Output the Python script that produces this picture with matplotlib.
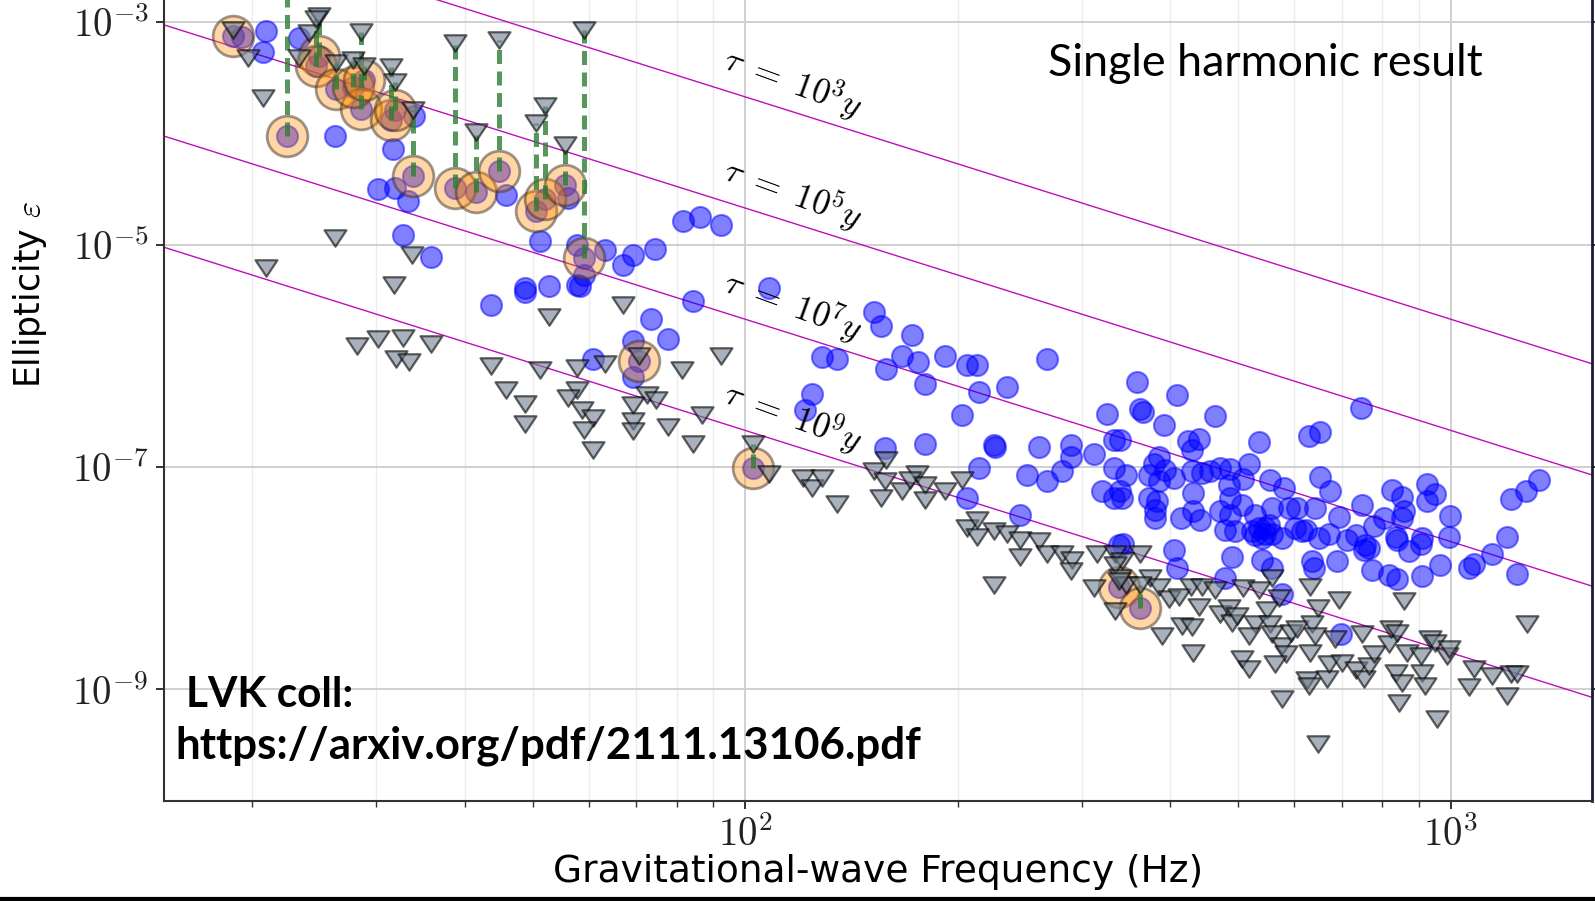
#!/usr/bin/env python3
"""Single-harmonic ellipticity limits versus gravitational-wave frequency."""

import matplotlib
matplotlib.use("Agg")
import matplotlib.pyplot as plt
from matplotlib.lines import Line2D
from matplotlib.path import Path
from matplotlib.ticker import LogLocator, NullFormatter, NullLocator
import numpy as np

# values are (log10 frequency [Hz], log10 ellipticity)

# pulsars whose upper limit beats the spin-down limit: log10 f, upper limit, spin-down limit
hl_logf = [1.274, 1.350, 1.396, 1.392, 1.420, 1.455, 1.444, 1.460, 1.498, 1.503, 1.529,
           1.588, 1.619, 1.651, 1.704, 1.716, 1.744, 1.772, 1.850, 2.011, 2.530, 2.560]
hl_log_ul = [-3.12, -4.02, -3.30, -3.39, -3.60, -3.78, -3.58, -3.52, -3.88, -3.79, -4.38,
             -4.49, -4.53, -4.34, -4.70, -4.59, -4.46, -5.12, -6.05, -7.01, -8.08, -8.27]
hl_log_sd = [-3.07, -2.60, -2.94, -2.97, -3.37, -3.09, -3.34, -3.39, -3.40, -3.54, -3.79,
             -3.19, -3.99, -3.16, -3.91, -3.75, -4.10, -3.07, -6.00, -6.79, -8.03, -8.06]

# direct upper limits (blue circles)
upper_limits = [
    (1.321, -3.08), (1.317, -3.27), (1.368, -3.14), (1.286, -3.13), (1.418, -4.02),
    (1.501, -4.14), (1.480, -4.50), (1.503, -4.49), (1.522, -4.61), (1.515, -4.91),
    (1.555, -5.11), (1.531, -3.84), (1.661, -4.55), (1.709, -4.97), (1.749, -4.58),
    (1.761, -5.00), (1.801, -5.05), (1.827, -5.18), (1.841, -5.09),
    (1.912, -4.79), (1.936, -4.75), (1.966, -4.82), (1.872, -5.04),
    (1.639, -5.54), (1.688, -5.39), (1.688, -5.43), (1.722, -5.37), (1.765, -5.37),
    (1.761, -5.36), (1.771, -5.27), (1.784, -6.03), (1.841, -5.87), (1.841, -6.19),
    (2.033, -5.39), (1.926, -5.51), (1.867, -5.67), (1.891, -5.85), (2.108, -6.01),
    (2.130, -6.03), (2.182, -5.61), (2.193, -5.73), (2.236, -5.81), (2.222, -6.00),
    (2.245, -6.06), (2.200, -6.12), (2.283, -6.00), (2.314, -6.08), (2.328, -6.08),
    (2.427, -6.03), (2.255, -6.25), (2.331, -6.33), (2.371, -6.28), (2.307, -6.53),
    (2.094, -6.34), (2.084, -6.49), (2.513, -6.52), (2.198, -6.83), (2.255, -6.79),
    (2.352, -6.80), (2.354, -6.82), (2.416, -6.82), (2.461, -6.80), (2.461, -6.91),
    (2.494, -6.88), (2.522, -6.76), (2.331, -7.01), (2.399, -7.07), (2.427, -7.13),
    (2.449, -7.04), (2.505, -7.22), (2.522, -7.01), (2.522, -7.28), (2.314, -7.28),
    (2.390, -7.43), (2.529, -7.70),
    (2.555, -6.24), (2.612, -6.35), (2.560, -6.48), (2.564, -6.51), (2.666, -6.54),
    (2.593, -6.62), (2.872, -6.47), (2.799, -6.72), (2.815, -6.69), (2.728, -6.78),
    (2.628, -6.77), (2.643, -6.75), (2.633, -6.85), (2.531, -6.76),
    (2.586, -6.91), (2.579, -6.97), (2.595, -7.03), (2.572, -7.07), (2.539, -7.07),
    (2.607, -7.10), (2.633, -7.04), (2.647, -7.05), (2.659, -7.04), (2.673, -7.01),
    (2.687, -7.02), (2.714, -6.97), (2.706, -7.11), (2.685, -7.16), (2.744, -7.12),
    (2.763, -7.19), (2.814, -7.09), (2.829, -7.22), (2.586, -7.13), (2.635, -7.23),
    (2.531, -7.22), (2.534, -7.28), (2.572, -7.28), (2.583, -7.31), (2.581, -7.39),
    (2.581, -7.46), (2.617, -7.46), (2.635, -7.40), (2.645, -7.48), (2.673, -7.40),
    (2.687, -7.43), (2.687, -7.28), (2.704, -7.34), (2.723, -7.43), (2.747, -7.37),
    (2.770, -7.37), (2.782, -7.37), (2.808, -7.37), (2.841, -7.45), (2.874, -7.34),
    (2.917, -7.21), (2.931, -7.27), (2.966, -7.15), (2.978, -7.24), (2.966, -7.31),
    (2.933, -7.40), (2.931, -7.46), (2.905, -7.46), (2.891, -7.53), (2.999, -7.44),
    (2.997, -7.63), (3.125, -7.12), (3.106, -7.22), (3.085, -7.29), (3.080, -7.63),
    (2.680, -7.57), (2.694, -7.58), (2.723, -7.61), (2.737, -7.55), (2.747, -7.60),
    (2.779, -7.55), (2.794, -7.57), (2.827, -7.60), (2.865, -7.61), (2.922, -7.63),
    (2.959, -7.64), (2.728, -7.55), (2.737, -7.60), (2.742, -7.52), (2.732, -7.64),
    (2.761, -7.64), (2.813, -7.64), (2.853, -7.66), (2.789, -7.58), (2.879, -7.70),
    (2.718, -7.58),
    (2.536, -7.69), (2.607, -7.75), (2.690, -7.81), (2.732, -7.84), (2.747, -7.91),
    (2.612, -7.91), (2.680, -8.00), (2.761, -8.14), (2.803, -7.85), (2.806, -7.91),
    (2.839, -7.85), (2.888, -7.93), (2.912, -7.97), (2.924, -8.01), (2.959, -7.98),
    (2.985, -7.88), (3.026, -7.91), (3.033, -7.87), (3.059, -7.78), (3.094, -7.96),
    (2.877, -7.75), (2.957, -7.69), (2.940, -7.76), (2.924, -7.66), (2.844, -8.50),
    (2.884, -7.73),
]

# spin-down limits (grey triangles)
spindown_limits = [
    (1.295, -3.32), (1.317, -3.68), (1.368, -3.32), (1.382, -3.10), (1.418, -4.94),
    (1.528, -5.09), (1.321, -5.21),
    (1.502, -5.36), (1.449, -5.91), (1.479, -5.85), (1.515, -5.84), (1.555, -5.89),
    (1.505, -6.03), (1.524, -6.06), (1.639, -6.09), (1.661, -6.31), (1.688, -6.43),
    (1.688, -6.61), (1.709, -6.13), (1.722, -5.65), (1.761, -6.11), (1.761, -6.31),
    (1.748, -6.38), (1.768, -6.49), (1.784, -6.56), (1.771, -6.67), (1.784, -6.85),
    (1.801, -6.07), (1.827, -5.54), (1.841, -6.44), (1.841, -6.59), (1.841, -6.68),
    (1.966, -6.00), (1.910, -6.13), (1.860, -6.35), (1.874, -6.40), (1.938, -6.53),
    (1.891, -6.64), (1.926, -6.79), (2.033, -7.06), (2.082, -7.10), (2.094, -7.19),
    (2.108, -7.10), (2.130, -7.33), (2.182, -7.04), (2.200, -6.94), (2.198, -7.13),
    (2.193, -7.28), (2.222, -7.22), (2.243, -7.06), (2.233, -7.12), (2.255, -7.16),
    (2.255, -7.30), (2.283, -7.22), (2.307, -7.12), (2.314, -7.55), (2.328, -7.48),
    (2.352, -7.58), (2.371, -7.60),
    (2.328, -7.63), (2.390, -7.66), (2.390, -7.81), (2.416, -7.67), (2.427, -7.78),
    (2.449, -7.78), (2.463, -7.84), (2.461, -7.94), (2.494, -8.09), (2.498, -7.78),
    (2.353, -8.06), (2.524, -7.78), (2.524, -8.30),
    (2.560, -7.78), (2.534, -7.85), (2.524, -7.88), (2.531, -8.00), (2.539, -8.06),
    (2.574, -8.00), (2.586, -8.08), (2.600, -8.19), (2.614, -8.17), (2.631, -8.08),
    (2.647, -8.08), (2.643, -8.26), (2.666, -8.11), (2.673, -8.32), (2.685, -8.27),
    (2.690, -8.40), (2.697, -8.34), (2.706, -8.09), (2.723, -8.41), (2.728, -8.11),
    (2.740, -8.29), (2.747, -8.00), (2.744, -8.41), (2.756, -8.18), (2.747, -8.50),
    (2.761, -8.61), (2.773, -8.49), (2.782, -8.46), (2.766, -8.68), (2.751, -8.77),
    (2.801, -8.08), (2.811, -8.27), (2.803, -8.41), (2.808, -8.52), (2.801, -8.67),
    (2.796, -8.92), (2.799, -8.97), (2.825, -8.91), (2.827, -8.77), (2.836, -8.55),
    (2.841, -8.20), (2.846, -8.76), (2.865, -8.83), (2.874, -8.50), (2.877, -8.91),
    (2.884, -8.79), (2.891, -8.68), (2.912, -8.59), (2.915, -8.46), (2.924, -8.49),
    (2.922, -8.85), (2.931, -8.94), (2.933, -8.21), (2.938, -8.67), (2.957, -8.70),
    (2.959, -8.85), (2.964, -8.97), (2.971, -8.55), (2.978, -8.58), (2.995, -8.70),
    (2.997, -8.64), (3.026, -8.98), (3.033, -8.82), (3.059, -8.88), (3.085, -8.86),
    (3.094, -8.86), (3.080, -9.06), (3.108, -8.41), (2.761, -9.09), (2.926, -9.12),
    (2.980, -9.27), (2.811, -9.49), (2.635, -8.67), (2.591, -8.52), (2.619, -8.43),
    (2.633, -8.44), (2.714, -8.52), (2.704, -8.73), (2.714, -8.82),
]

# spin-down age lines: eps at 100 Hz for tau = 1e9 y, scaling as f^-2 tau^-1/2
tau_years = [1e3, 1e5, 1e7, 1e9]
tau_labels = [r"$\tau\ =\ 10^{3}y$", r"$\tau\ =\ 10^{5}y$",
              r"$\tau\ =\ 10^{7}y$", r"$\tau\ =\ 10^{9}y$"]
EPS_REF = 2.13e-7
LABEL_F = 117.0


def spin_down_eps(freq, tau):
    return EPS_REF * (freq / 100.0) ** -2 * (tau / 1e9) ** -0.5


def main() -> None:
    plt.rcParams["mathtext.fontset"] = "cm"
    plt.rcParams["font.family"] = ["DejaVu Sans"]

    fig = plt.figure(figsize=(15.95, 9.01), dpi=100)
    ax = fig.add_axes([164 / 1595, 1 - 800.5 / 901, (1592 - 164) / 1595, 800.5 / 901])
    ax.set_xscale("log")
    ax.set_yscale("log")
    ax.set_xlim(15, 1585)
    ax.set_ylim(1e-10, 10 ** -2.8)

    freq_line = np.array([10.0, 2000.0])
    for tau, label in zip(tau_years, tau_labels):
        ax.plot(freq_line, spin_down_eps(freq_line, tau), color="#bb10bb", lw=1.0, zorder=2)
        ax.text(LABEL_F, spin_down_eps(LABEL_F, tau) * 1.85, label, fontsize=25,
                rotation=-20, rotation_mode="anchor", ha="center", va="center", zorder=6)

    blue = np.array(upper_limits)
    ax.scatter(10 ** blue[:, 0], 10 ** blue[:, 1], s=230, color="blue", alpha=0.5,
               edgecolors="blue", linewidths=1.5, zorder=3)

    hl_f = 10 ** np.array(hl_logf)
    hl_ul = 10 ** np.array(hl_log_ul)
    hl_sd = 10 ** np.array(hl_log_sd)
    ax.scatter(hl_f, hl_ul, s=230, color="blue", alpha=0.5, edgecolors="blue",
               linewidths=1.5, zorder=3)
    ax.scatter(hl_f, hl_ul, s=860, facecolors=(1.0, 0.55, 0.0, 0.35),
               edgecolors=(0.25, 0.2, 0.15, 0.5), linewidths=2, zorder=4)
    ax.vlines(hl_f, hl_ul, hl_sd, colors="#2e7d32", alpha=0.8, linewidth=3.6,
              linestyles=(0, (2.8, 1.5)), zorder=5)

    tri_marker = Path([(0, -0.75), (-1, 0.75), (1, 0.75), (0, -0.75)],
                      [Path.MOVETO, Path.LINETO, Path.LINETO, Path.CLOSEPOLY])
    tri = np.array(spindown_limits)
    tri_f = np.concatenate([10 ** tri[:, 0], hl_f])
    tri_eps = np.concatenate([10 ** tri[:, 1], hl_sd])
    ax.scatter(tri_f, tri_eps, s=250, marker=tri_marker,
               facecolors=(0.44, 0.50, 0.565, 0.6), edgecolors=(0, 0, 0, 0.6),
               linewidths=1.6, zorder=5)

    ax.set_xticks([100, 1000], [r"$10^{2}$", r"$10^{3}$"])
    ax.xaxis.set_minor_locator(LogLocator(base=10, subs=np.arange(2, 10)))
    ax.xaxis.set_minor_formatter(NullFormatter())
    ax.set_yticks([1e-9, 1e-7, 1e-5, 1e-3],
                  [r"$10^{-9}$", r"$10^{-7}$", r"$10^{-5}$", r"$10^{-3}$"])
    ax.yaxis.set_minor_locator(NullLocator())

    ax.grid(which="major", color="#d0d0d0", lw=1.4, zorder=0)
    ax.grid(which="minor", axis="x", color="#ececec", lw=1.0, zorder=0)
    ax.set_axisbelow(True)

    ax.tick_params(which="major", direction="out", length=6, width=1.3,
                   labelsize=28, right=True, pad=5, colors="#222222")
    ax.tick_params(which="minor", direction="out", length=4, width=1.0, colors="#333333")
    ax.spines["top"].set_visible(False)
    for side in ("left", "bottom"):
        ax.spines[side].set_color("#333333")
        ax.spines[side].set_linewidth(1.5)
    ax.spines["right"].set_color("#1a1a3a")
    ax.spines["right"].set_linewidth(2.0)

    ax.set_xlabel("Gravitational-wave Frequency (Hz)", fontsize=27, va="center")
    ax.set_ylabel(r"Ellipticity $\varepsilon$", fontsize=25, va="center")
    ax.xaxis.set_label_coords(0.5, -0.089)
    ax.yaxis.set_label_coords(-0.094, 0.632)

    fig.text(1048 / 1595, 1 - 76 / 901, "Single harmonic result", fontsize=32.3,
             family="Lato", va="baseline", ha="left")
    fig.text(186 / 1595, 1 - 707 / 901, "LVK coll:", fontsize=30.5, family="Lato",
             weight="bold", va="baseline", ha="left")
    fig.text(175 / 1595, 1 - 758 / 901, "https://arxiv.org/pdf/2111.13106.pdf",
             fontsize=31.6, family="Lato", weight="bold", va="baseline", ha="left")

    fig.add_artist(Line2D([0, 1], [0.0022, 0.0022], transform=fig.transFigure,
                          color="black", lw=3))

    fig.savefig("out.png", dpi=100, facecolor="white")
    plt.close(fig)


if __name__ == "__main__":
    main()
